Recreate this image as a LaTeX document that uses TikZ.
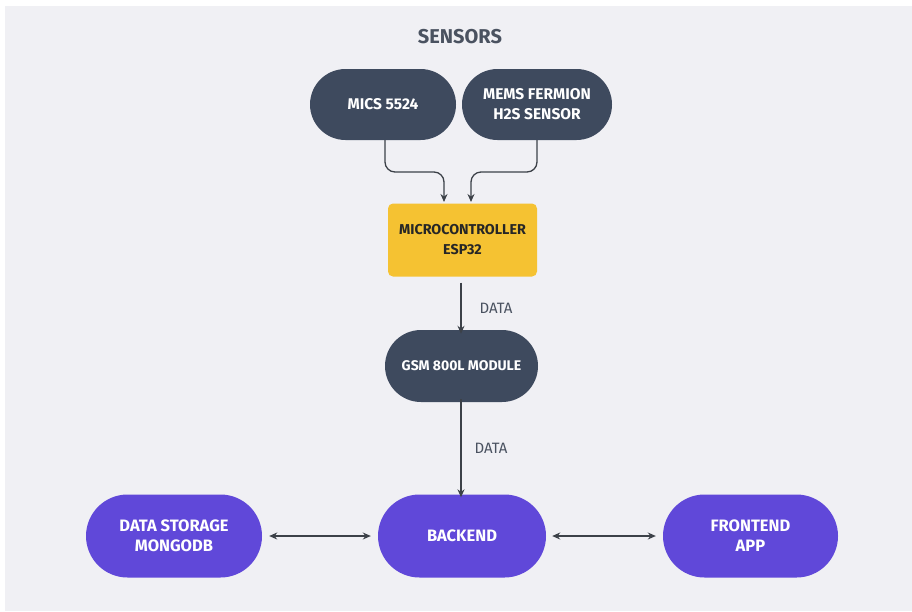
\documentclass[tikz,border=0pt]{standalone}
\usepackage{fontspec}
\setmainfont{Fira Sans}
\usetikzlibrary{arrows.meta,positioning,shapes.misc}
\definecolor{bgpanel}{HTML}{F0F0F4}
\definecolor{slate}{HTML}{3E4A5E}
\definecolor{amber}{HTML}{F5C232}
\definecolor{violet}{HTML}{6048D9}
\definecolor{wire}{HTML}{3C4148}
\definecolor{titlegray}{HTML}{4A5260}
\tikzset{
  pill/.style={rounded rectangle, minimum height=71pt, text=white, font=\bfseries\fontsize{15.5}{20}\selectfont, align=center, inner sep=0pt},
  darkpill/.style={pill, fill=slate},
  purplepill/.style={pill, fill=violet, minimum height=83pt, font=\bfseries\fontsize{16.5}{20}\selectfont},
  mcubox/.style={fill=amber, rounded corners=5pt, minimum width=149pt, minimum height=73pt, align=center, text=black!85, font=\bfseries\fontsize{14.3}{20}\selectfont, inner sep=0pt},
  wireline/.style={draw=wire, line width=1.3pt, -{Stealth[length=8pt,width=7pt]}},
  bothline/.style={draw=wire, line width=1.3pt, {Stealth[length=8pt,width=7pt]}-{Stealth[length=8pt,width=7pt]}},
  datalabel/.style={text=titlegray, font=\fontsize{15}{18}\selectfont}
}
\begin{document}
\begin{tikzpicture}[x=1pt,y=-1pt]
\fill[white] (0,0) rectangle (912,611);
\fill[bgpanel] (5,6) rectangle (912,611);
\useasboundingbox (0,0) rectangle (912,611);

\node[text=titlegray, font=\bfseries\fontsize{20}{22}\selectfont] (title) at (460,37) {SENSORS};

\node[darkpill, minimum width=146pt] (mics) at (383,104.5) {MICS 5524};
\node[darkpill, minimum width=150pt] (mems) at (537,104.5) {MEMS FERMION\\H2S SENSOR};
\node[mcubox] (mcu) at (462.5,240) {MICROCONTROLLER\\ESP32};
\node[darkpill, minimum width=153pt, minimum height=72pt, font=\bfseries\fontsize{14}{18}\selectfont] (gsm) at (461.5,366) {GSM 800L MODULE};
\node[purplepill, minimum width=168pt] (backend) at (462,536) {BACKEND};
\node[purplepill, minimum width=176pt] (storage) at (174,536) {DATA STORAGE\\MONGODB};
\node[purplepill, minimum width=175pt] (frontend) at (750.5,536) {FRONTEND\\APP};

\coordinate (j1) at (444,172);
\coordinate (j2) at (471,172);
\draw[wireline, rounded corners=10pt] (mics.south -| 385,0) -- (385,172) -- (j1) -- (444,202);
\draw[wireline, rounded corners=10pt] (mems.south -| 537,0) -- (537,172) -- (j2) -- (471,202);

\draw[wireline] ([yshift=-6pt]mcu.south -| 461,0) -- ([yshift=-4pt]gsm.north -| 461,0);
\node[datalabel] (d1) at (496,308) {DATA};
\draw[wireline] ([yshift=3pt]gsm.south -| 461,0) -- ([yshift=-3pt]backend.north -| 461,0);
\node[datalabel] (d2) at (491,448) {DATA};

\draw[bothline] ([xshift=7pt]storage.east) -- ([xshift=-7pt]backend.west);
\draw[bothline] ([xshift=6pt]backend.east) -- ([xshift=-7pt]frontend.west);
\end{tikzpicture}
\end{document}
